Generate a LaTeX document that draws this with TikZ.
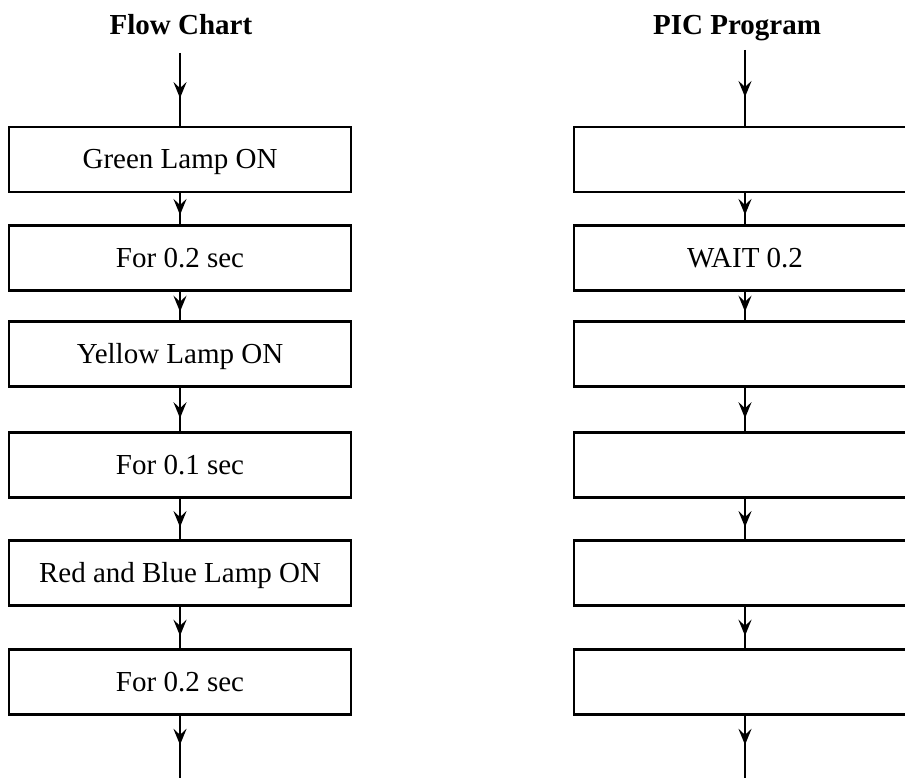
\documentclass[tikz,border=0pt]{standalone}
\usepackage{fontspec}
\setmainfont{Liberation Serif}
\usetikzlibrary{arrows.meta,decorations.markings}
\tikzset{
  x=1pt, y=-1pt,
  box/.style={draw, line width=2.4pt, minimum width=342pt, minimum height=65pt,
    inner sep=0pt, text height=21pt, text depth=3pt, font=\fontsize{29}{32}\selectfont},
  title/.style={anchor=base, font=\fontsize{29}{32}\selectfont\bfseries},
  flow/.style={line width=2.4pt, postaction={decorate},
    decoration={markings, mark=at position #1 with {\arrow{Stealth[length=16pt,width=13pt,inset=6pt]}}}},
  flow/.default=0.7
}
\begin{document}
\begin{tikzpicture}
\useasboundingbox (0,0) rectangle (905,778);
\clip (0,0) rectangle (905,778);
\fill[white] (0,0) rectangle (905,778);

% titles
\node[title] (t1) at (181,35) {Flow Chart};
\node[title] (t2) at (737,35) {PIC Program};

% left column
\coordinate (ls) at (180,53);
\node[box] (l1) at (180,159.5) {Green Lamp ON};
\node[box] (l2) at (180,258) {For 0.2 sec};
\node[box] (l3) at (180,354) {Yellow Lamp ON};
\node[box] (l4) at (180,465) {For 0.1 sec};
\node[box] (l5) at (180,573) {Red and Blue Lamp ON};
\node[box] (l6) at (180,682) {For 0.2 sec};
\coordinate (le) at (180,782);

% right column
\coordinate (rs) at (745,50);
\node[box] (r1) at (745,159.5) {};
\node[box] (r2) at (745,258) {WAIT 0.2};
\node[box] (r3) at (745,354) {};
\node[box] (r4) at (745,465) {};
\node[box] (r5) at (745,573) {};
\node[box] (r6) at (745,682) {};
\coordinate (re) at (745,782);

% connectors
\draw[flow=0.62] (ls) -- (l1);
\draw[flow=0.7] (l1) -- (l2);
\draw[flow=0.7] (l2) -- (l3);
\draw[flow=0.7] (l3) -- (l4);
\draw[flow=0.7] (l4) -- (l5);
\draw[flow=0.7] (l5) -- (l6);
\draw[flow=0.44] (l6) -- (le);

\draw[flow=0.62] (rs) -- (r1);
\draw[flow=0.7] (r1) -- (r2);
\draw[flow=0.7] (r2) -- (r3);
\draw[flow=0.7] (r3) -- (r4);
\draw[flow=0.7] (r4) -- (r5);
\draw[flow=0.7] (r5) -- (r6);
\draw[flow=0.44] (r6) -- (re);
\end{tikzpicture}
\end{document}
